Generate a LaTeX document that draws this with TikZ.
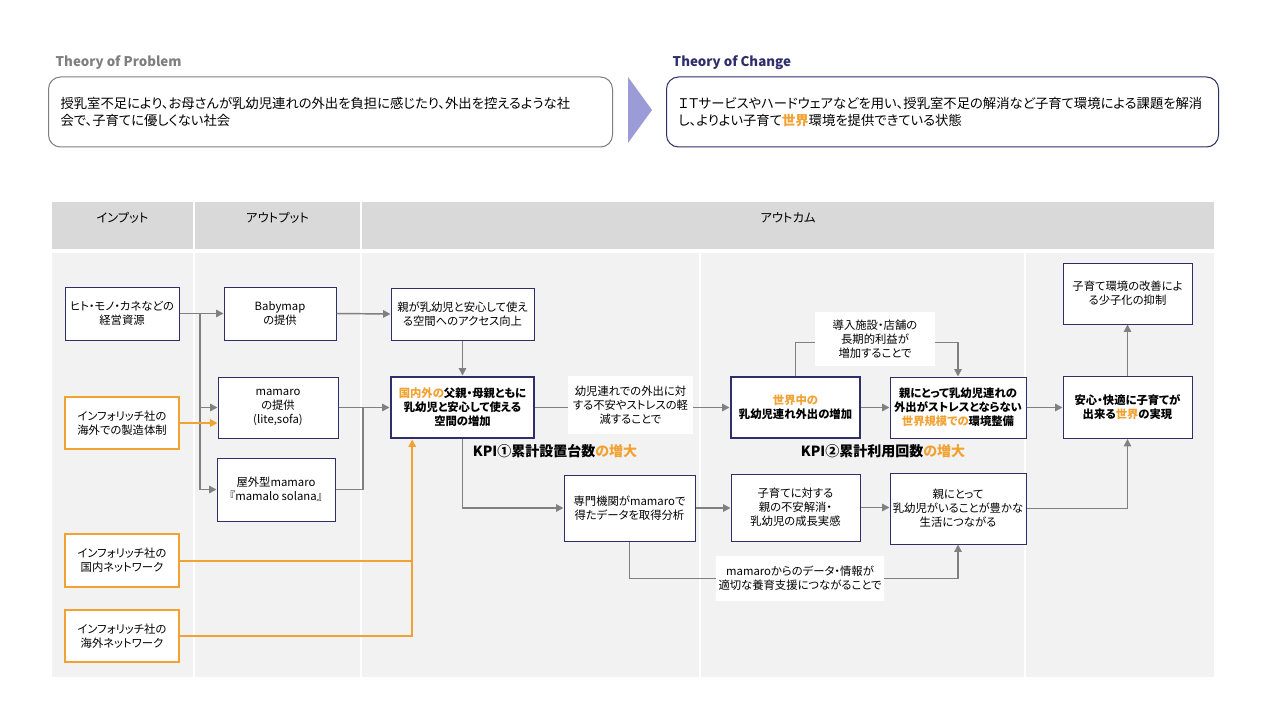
\documentclass[tikz,border=0pt]{standalone}
\usepackage{fontspec}
\setmainfont{Noto Sans CJK JP}[RawFeature=+palt]
\usetikzlibrary{arrows.meta,calc}
\definecolor{navyC}{HTML}{2E2E6A}
\definecolor{orangeC}{HTML}{F2A233}
\definecolor{lineC}{HTML}{808080}
\definecolor{hdrC}{HTML}{D9D9D9}
\definecolor{bodyC}{HTML}{F2F2F2}
\definecolor{chevC}{HTML}{9B9BD8}
\definecolor{grayT}{HTML}{7F7F7F}

\begin{document}
\begin{tikzpicture}[x=0.75pt,y=-0.75pt,
  sz/.style 2 args={minimum width=#1*0.75pt,minimum height=#2*0.75pt},
  box/.style={draw=navyC,line width=0.75pt,fill=white,align=center,inner sep=2pt,font=\fontsize{8.5}{10.5}\selectfont},
  boldbox/.style={box,font=\fontsize{8.5}{10.5}\selectfont\bfseries},
  keybox/.style={boldbox,line width=2.2pt},
  inbox/.style={box,draw=orangeC,line width=1pt},
  note/.style={fill=white,align=center,inner sep=2pt,font=\fontsize{8.5}{10.5}\selectfont},
  hdr/.style={font=\fontsize{9.25}{11}\selectfont},
  kpi/.style={font=\fontsize{10.5}{12}\selectfont\bfseries},
  ttl/.style={anchor=west,font=\fontsize{10}{12}\selectfont\bfseries},
  theory/.style={rounded corners=9pt,line width=0.75pt,fill=white,align=left,anchor=west,inner xsep=9pt,font=\fontsize{10}{12.75}\selectfont},
  link/.style={draw=lineC,line width=1.1pt},
  conn/.style={link,-{Triangle[length=5.5pt,width=5.5pt]}},
  olink/.style={draw=orangeC,line width=1.5pt},
  oconn/.style={olink,-{Triangle[length=5.5pt,width=5.5pt]}}]
\useasboundingbox[fill=white] (0,0) rectangle (1280,720);

% theory of problem / change
\node[ttl,text=grayT] (tProb) at (51,63) {Theory of Problem};
\node[theory,draw=grayT,text width=405pt,minimum height=52.5pt] (prob) at (48,112)
  {授乳室不足により、お母さんが乳幼児連れの外出を負担に感じたり、外出を控えるような社\\会で、子育てに優しくない社会};
\fill[chevC] (628,77) -- (652,110) -- (628,143) -- cycle;
\node[ttl,text=navyC] (tChg) at (668,63) {Theory of Change};
\node[theory,draw=navyC,text width=396pt,minimum height=52.5pt] (chg) at (666,112)
  {ＩＴサービスやハードウェアなどを用い、授乳室不足の解消など子育て環境による課題を解消\\し、よりよい子育て\textcolor{orangeC}{\bfseries 世界}環境を提供できている状態};

% table background
\foreach \xa/\xb in {52/193,195/360,362/1214} \fill[hdrC] (\xa,202) rectangle (\xb,249);
\foreach \xa/\xb in {52/193,195/360,362/699,701/1024,1026/1214} \fill[bodyC] (\xa,253) rectangle (\xb,677);
\node[hdr] (hIn) at (122.5,218) {インプット};
\node[hdr] (hOut) at (277.5,218) {アウトプット};
\node[hdr] (hOc) at (788,218) {アウトカム};

% input
\node[box,sz={114}{53}] (in1) at (122,313.5) {ヒト・モノ・カネなどの\\経営資源};
\node[inbox,sz={114}{52}] (in2) at (122,423) {インフォリッチ社の\\海外での製造体制};
\node[inbox,sz={114}{53}] (in3) at (122,560.5) {インフォリッチ社の\\国内ネットワーク};
\node[inbox,sz={114}{52}] (in4) at (122,636) {インフォリッチ社の\\海外ネットワーク};

% output
\node[box,sz={112}{53}] (op1) at (280,313.5) {Babymap\\の提供};
\node[box,sz={120}{61}] (op2) at (278,407.5) {mamaro\\の提供\\(lite,sofa)};
\node[box,sz={118}{63}] (op3) at (276,489.5) {屋外型mamaro\\『mamalo solana』};

% outcome
\node[box,sz={143}{52}] (oc1) at (462.5,314) {親が乳幼児と安心して使え\\る空間へのアクセス向上};
\node[keybox,sz={143}{61}] (oc2) at (462.5,407.5) {\textcolor{orangeC}{国内外の}父親・母親ともに\\乳幼児と安心して使える\\空間の増加};
\node[keybox,sz={129}{61}] (oc3) at (795.5,407.5) {\textcolor{orangeC}{世界中の}\\乳幼児連れ外出の増加};
\node[boldbox,sz={136}{61}] (oc4) at (958,407.5) {親にとって乳幼児連れの\\外出がストレスとならない\\\textcolor{orangeC}{世界規模での}環境整備};
\node[boldbox,sz={129}{62}] (oc5) at (1127.5,407.5) {安心・快適に子育てが\\出来る\textcolor{orangeC}{世界}の実現};
\node[box,sz={129}{61}] (oc6) at (1127.5,293.5) {子育て環境の改善によ\\る少子化の抑制};
\node[box,sz={131}{66}] (oc7) at (629.5,508) {専門機関がmamaroで\\得たデータを取得分析};
\node[box,sz={129}{67}] (oc8) at (795.5,507.5) {子育てに対する\\親の不安解消・\\乳幼児の成長実感};
\node[box,sz={136}{71}] (oc9) at (958,508.5) {親にとって\\乳幼児がいることが豊かな\\生活につながる};
\node[kpi] (kpi1) at (555,451) {KPI①累計設置台数\textcolor{orangeC}{の増大}};
\node[kpi] (kpi2) at (883,451) {KPI②累計利用回数\textcolor{orangeC}{の増大}};

% connectors
\coordinate (j1) at (200,313.5);
\coordinate (j2) at (363,407.5);
\coordinate (ot) at ([xshift=17pt]oc2.south west);
\draw[conn] (in1.east) -- (op1.west);
\draw[conn] (j1) |- (op2.west);
\draw[conn] (j1) |- (op3.west);
\draw[oconn] (in2.east) -- (in2.east -| op2.west);
\draw[olink] (in3.east) -- (in3.east -| ot);
\draw[oconn] (in4.east) -| (ot);
\draw[conn] (op1.east) -- (oc1.west);
\draw[conn] (op2.east) -- (oc2.west);
\draw[link] (op3.east) -| (j2);
\draw[conn] (oc1.south) -- (oc2.north);
\draw[conn] (oc2.east) -- (oc3.west);
\draw[conn] (oc2.south) |- (oc7.west);
\draw[conn] (oc3.east) -- (oc4.west);
\draw[conn] (oc3.north) -- ++(0,-33) -| (oc4.north);
\draw[conn] (oc4.east) -- (oc4.east -| oc5.west);
\draw[conn] (oc5.north) -- (oc6.south);
\draw[conn] (oc7.east) -- (oc7.east -| oc8.west);
\draw[conn] (oc8.east) -- (oc8.east -| oc9.west);
\draw[conn] (oc9.east) -| (oc5.south);
\draw[conn] (oc7.south) -- ++(0,37) -| (oc9.south);

% notes on the connectors
\node[note,sz={125}{58}] (n1) at (630.5,405) {幼児連れでの外出に対\\する不安やストレスの軽\\減することで};
\node[note,sz={120}{54}] (n2) at (875,339) {導入施設・店舗の\\長期的利益が\\増加することで};
\node[note,sz={168}{45}] (n3) at (800,578.5) {mamaroからのデータ・情報が\\適切な養育支援につながることで};
\end{tikzpicture}
\end{document}
